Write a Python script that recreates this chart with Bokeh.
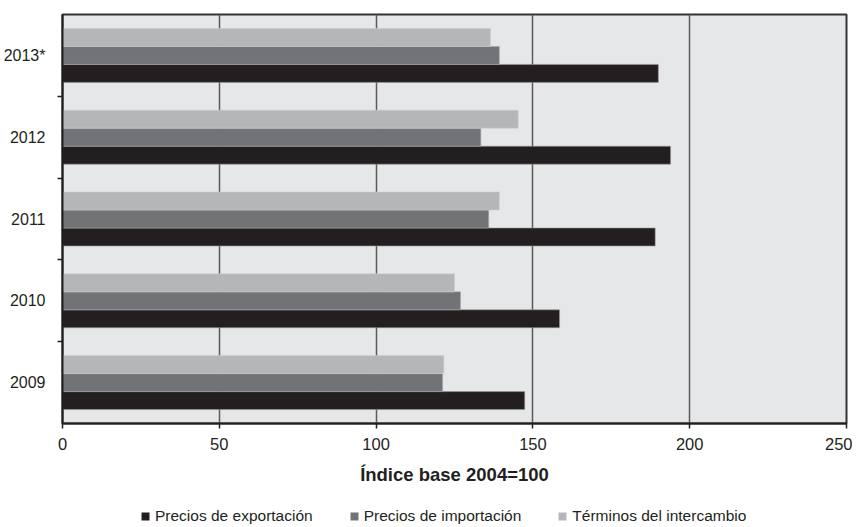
from bokeh.plotting import figure
from bokeh.models import Range1d, FixedTicker, ColumnDataSource, Legend, LegendItem
from bokeh.layouts import column
from bokeh.transform import dodge
from bokeh.embed import file_html
from bokeh.resources import INLINE

years = ["2009", "2010", "2011", "2012", "2013*"]
exportacion = [147.4, 158.5, 189.0, 193.9, 190.0]
importacion = [121.2, 126.9, 135.9, 133.4, 139.3]
terminos = [121.6, 125.0, 139.3, 145.3, 136.5]
x_ticks = [0, 50, 100, 150, 200, 250]
series_names = ["Precios de exportación", "Precios de importación", "Términos del intercambio"]
series_colors = ["#231f20", "#727376", "#b5b6b8"]
edge_colors = ["#9a9a9a", "#a8a8a8", "#cfcfcf"]

ypos = [i + 0.5 for i in range(len(years))]
src = ColumnDataSource(dict(y=ypos, exp=exportacion, imp=importacion, ter=terminos))
cols = ["exp", "imp", "ter"]

FONT = "Liberation Sans"
W = 852

p = figure(width=W, height=505, x_range=Range1d(0, 250), y_range=Range1d(0, len(years)),
           output_backend="svg", toolbar_location=None,
           min_border_left=54, min_border_right=6, min_border_top=14, min_border_bottom=82)
p.background_fill_color = "#e6e7e9"
p.border_fill_color = "white"
p.outline_line_color = "#333333"
p.outline_line_width = 2

bh = 0.22
offsets = [-bh, 0, bh]
for c, off, fc, lc in zip(cols, offsets, series_colors, edge_colors):
    p.hbar(y=dodge("y", off, range=p.y_range), right=c, left=0, height=bh, source=src,
           fill_color=fc, line_color=lc, line_width=0.6)

# grid
p.ygrid.grid_line_color = None
p.xgrid.ticker = FixedTicker(ticks=x_ticks)
p.xgrid.grid_line_color = "#5a5a5a"
p.xgrid.grid_line_width = 1.5
p.xgrid.level = "underlay"

# x axis
p.xaxis.ticker = FixedTicker(ticks=x_ticks)
p.xaxis.axis_label = "Índice base 2004=100"
p.xaxis.axis_label_text_font = FONT
p.xaxis.axis_label_text_font_style = "bold"
p.xaxis.axis_label_text_font_size = "18.5px"
p.xaxis.axis_label_text_color = "#231f20"
p.xaxis.axis_label_standoff = 11
p.xaxis.major_label_text_font = FONT
p.xaxis.major_label_text_font_size = "16.5px"
p.xaxis.major_label_text_color = "#231f20"
p.xaxis.major_label_standoff = 9
p.xaxis.major_tick_out = 5
p.xaxis.major_tick_in = 0
p.xaxis.minor_tick_out = 0
p.xaxis.minor_tick_in = 0
p.xaxis.axis_line_color = "#231f20"
p.xaxis.axis_line_width = 2
p.xaxis.major_tick_line_color = "#231f20"
p.xaxis.major_tick_line_width = 1.5

# y axis
p.yaxis.ticker = FixedTicker(ticks=ypos, minor_ticks=list(range(1, len(years))))
p.yaxis.major_label_overrides = {y: lab for y, lab in zip(ypos, years)}
p.yaxis.major_label_text_font = FONT
p.yaxis.major_label_text_font_size = "16px"
p.yaxis.major_label_text_color = "#231f20"
p.yaxis.major_label_standoff = 12
p.yaxis.major_tick_out = 0
p.yaxis.major_tick_in = 0
p.yaxis.minor_tick_out = 5
p.yaxis.minor_tick_in = 0
p.yaxis.minor_tick_line_color = "#231f20"
p.yaxis.minor_tick_line_width = 1.5
p.yaxis.axis_line_color = "#231f20"
p.yaxis.axis_line_width = 2

# legend strip (separate small figure, legend keys from hidden copies of the series)
lp = figure(width=W, height=20, x_range=Range1d(0, 1), y_range=Range1d(0, 1),
            output_backend="svg", toolbar_location=None,
            x_axis_location=None, y_axis_location=None,
            min_border_left=0, min_border_right=0, min_border_top=0, min_border_bottom=0)
lp.outline_line_color = None
lp.grid.visible = False
items = []
for c, off, fc, lc, name in zip(cols, offsets, series_colors, edge_colors, series_names):
    r = lp.hbar(y="y", right=c, left=0, height=bh, source=src, fill_color=fc, line_color=None,
                visible=False)
    items.append(LegendItem(label=name, renderers=[r]))

legend = Legend(items=items, orientation="horizontal", location=(78, 0))
legend.label_text_font = FONT
legend.label_text_font_size = "15.5px"
legend.label_text_color = "#231f20"
legend.glyph_width = 10
legend.glyph_height = 10
legend.label_standoff = 5
legend.spacing = 36
legend.border_line_color = None
legend.background_fill_alpha = 0
legend.inactive_fill_alpha = 0
legend.margin = 0
legend.padding = 0
lp.add_layout(legend, "center")

layout = column(p, lp, spacing=0)
open("out.html", "w").write(file_html(layout, INLINE))
